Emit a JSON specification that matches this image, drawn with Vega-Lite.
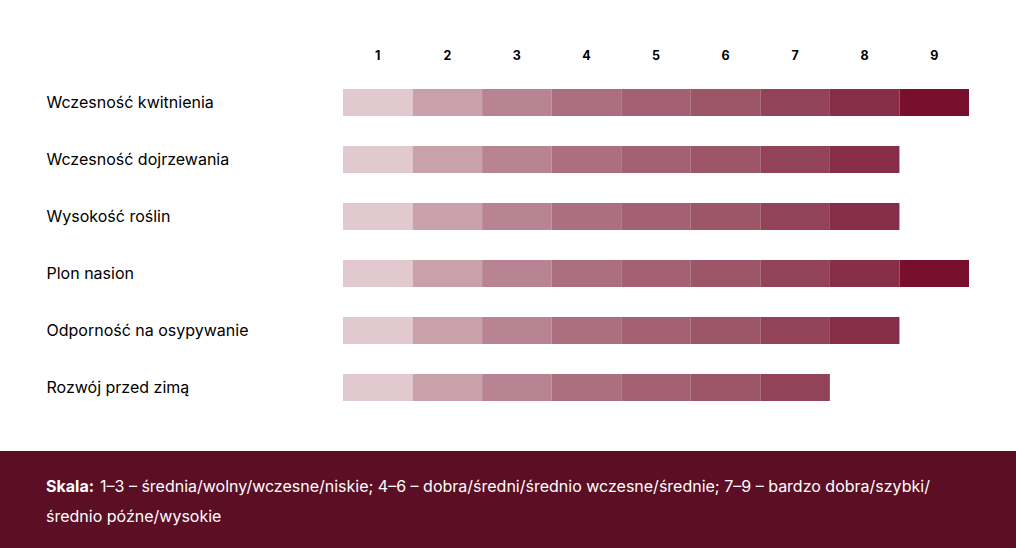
{
  "$schema": "https://vega.github.io/schema/vega-lite/v6.json",
  "padding": 0,
  "background": "white",
  "spacing": 35,
  "config": {"view": {"stroke": null}, "font": "Inter"},
  "vconcat": [
    {
      "width": 626,
      "height": 342,
      "data": {"values": [
        {"cecha": "Wczesność kwitnienia", "ocena": 1},
        {"cecha": "Wczesność kwitnienia", "ocena": 2},
        {"cecha": "Wczesność kwitnienia", "ocena": 3},
        {"cecha": "Wczesność kwitnienia", "ocena": 4},
        {"cecha": "Wczesność kwitnienia", "ocena": 5},
        {"cecha": "Wczesność kwitnienia", "ocena": 6},
        {"cecha": "Wczesność kwitnienia", "ocena": 7},
        {"cecha": "Wczesność kwitnienia", "ocena": 8},
        {"cecha": "Wczesność kwitnienia", "ocena": 9},
        {"cecha": "Wczesność dojrzewania", "ocena": 1},
        {"cecha": "Wczesność dojrzewania", "ocena": 2},
        {"cecha": "Wczesność dojrzewania", "ocena": 3},
        {"cecha": "Wczesność dojrzewania", "ocena": 4},
        {"cecha": "Wczesność dojrzewania", "ocena": 5},
        {"cecha": "Wczesność dojrzewania", "ocena": 6},
        {"cecha": "Wczesność dojrzewania", "ocena": 7},
        {"cecha": "Wczesność dojrzewania", "ocena": 8},
        {"cecha": "Wysokość roślin", "ocena": 1},
        {"cecha": "Wysokość roślin", "ocena": 2},
        {"cecha": "Wysokość roślin", "ocena": 3},
        {"cecha": "Wysokość roślin", "ocena": 4},
        {"cecha": "Wysokość roślin", "ocena": 5},
        {"cecha": "Wysokość roślin", "ocena": 6},
        {"cecha": "Wysokość roślin", "ocena": 7},
        {"cecha": "Wysokość roślin", "ocena": 8},
        {"cecha": "Plon nasion", "ocena": 1},
        {"cecha": "Plon nasion", "ocena": 2},
        {"cecha": "Plon nasion", "ocena": 3},
        {"cecha": "Plon nasion", "ocena": 4},
        {"cecha": "Plon nasion", "ocena": 5},
        {"cecha": "Plon nasion", "ocena": 6},
        {"cecha": "Plon nasion", "ocena": 7},
        {"cecha": "Plon nasion", "ocena": 8},
        {"cecha": "Plon nasion", "ocena": 9},
        {"cecha": "Odporność na osypywanie", "ocena": 1},
        {"cecha": "Odporność na osypywanie", "ocena": 2},
        {"cecha": "Odporność na osypywanie", "ocena": 3},
        {"cecha": "Odporność na osypywanie", "ocena": 4},
        {"cecha": "Odporność na osypywanie", "ocena": 5},
        {"cecha": "Odporność na osypywanie", "ocena": 6},
        {"cecha": "Odporność na osypywanie", "ocena": 7},
        {"cecha": "Odporność na osypywanie", "ocena": 8},
        {"cecha": "Rozwój przed zimą", "ocena": 1},
        {"cecha": "Rozwój przed zimą", "ocena": 2},
        {"cecha": "Rozwój przed zimą", "ocena": 3},
        {"cecha": "Rozwój przed zimą", "ocena": 4},
        {"cecha": "Rozwój przed zimą", "ocena": 5},
        {"cecha": "Rozwój przed zimą", "ocena": 6},
        {"cecha": "Rozwój przed zimą", "ocena": 7}
      ]},
      "mark": {"type": "rect"},
      "encoding": {
        "x": {
          "field": "ocena",
          "type": "ordinal",
          "scale": {"domain": [1, 2, 3, 4, 5, 6, 7, 8, 9], "paddingInner": 0, "paddingOuter": 0},
          "axis": {
            "orient": "top",
            "title": null,
            "ticks": false,
            "domain": false,
            "labelAngle": 0,
            "labelFont": "Inter",
            "labelFontSize": 12.5,
            "labelFontWeight": "bold",
            "labelColor": "#000000",
            "labelPadding": 12
          }
        },
        "y": {
          "field": "cecha",
          "type": "nominal",
          "sort": ["Wczesność kwitnienia", "Wczesność dojrzewania", "Wysokość roślin", "Plon nasion", "Odporność na osypywanie", "Rozwój przed zimą"],
          "scale": {"paddingInner": 0.526, "paddingOuter": 0.263},
          "axis": {
            "title": "\u00a0",
            "titleAngle": 0,
            "titleX": -343,
            "titleY": -74,
            "titleAlign": "left",
            "titleBaseline": "top",
            "titleFontSize": 1,
            "ticks": false,
            "domain": false,
            "labelAlign": "left",
            "labelPadding": 297,
            "labelFont": "Inter",
            "labelFontSize": 16,
            "labelColor": "#000000",
            "labelLimit": 0
          }
        },
        "color": {
          "field": "ocena",
          "type": "ordinal",
          "scale": {
            "domain": [1, 2, 3, 4, 5, 6, 7, 8, 9],
            "range": ["#e2c9d0", "#c9a1ab", "#b88392", "#ab6f80", "#a36173", "#9c5668", "#924259", "#882d48", "#770f2d"]
          },
          "legend": null
        }
      }
    },
    {
      "width": 673,
      "height": 97,
      "layer": [
        {
          "data": {"values": [{"panel": "stopka"}]},
          "mark": {"type": "rect", "color": "#5c0e24"},
          "encoding": {"x": {"value": -343}, "x2": {"value": 673}, "y": {"value": 0}, "y2": {"value": 97}}
        },
        {
          "data": {"values": [{"t": "Skala:"}]},
          "mark": {"type": "text", "align": "left", "baseline": "middle", "font": "Inter", "fontSize": 16, "fontWeight": "bold", "color": "#ffffff"},
          "encoding": {"text": {"field": "t"}, "x": {"value": -297}, "y": {"value": 36}}
        },
        {
          "data": {"values": [{"t": "1–3 – średnia/wolny/wczesne/niskie; 4–6 – dobra/średni/średnio wczesne/średnie; 7–9 – bardzo dobra/szybki/"}]},
          "mark": {"type": "text", "align": "left", "baseline": "middle", "font": "Inter", "fontSize": 16, "color": "#ffffff"},
          "encoding": {"text": {"field": "t"}, "x": {"value": -243}, "y": {"value": 36}}
        },
        {
          "data": {"values": [{"t": "średnio późne/wysokie"}]},
          "mark": {"type": "text", "align": "left", "baseline": "middle", "font": "Inter", "fontSize": 16, "color": "#ffffff"},
          "encoding": {"text": {"field": "t"}, "x": {"value": -297}, "y": {"value": 66}}
        }
      ]
    }
  ]
}
